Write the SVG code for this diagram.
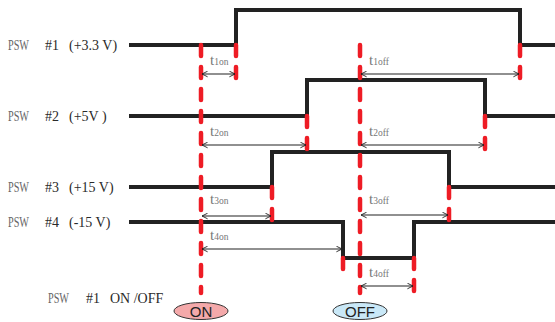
<svg xmlns="http://www.w3.org/2000/svg" width="555" height="322" viewBox="0 0 555 322">
<style>
.wave{fill:none;stroke:#222;stroke-width:4;stroke-linejoin:miter}
.red{fill:none;stroke:#ee1c25;stroke-width:4.5;stroke-linecap:round;stroke-dasharray:11 11}
.arr{fill:none;stroke:#222;stroke-width:1.1;marker-start:url(#ah);marker-end:url(#ah)}
.lbl{font-family:"Liberation Serif","Noto Serif CJK TC",serif;font-size:14px;fill:#2a2a2a}
.psw{fill:#666;font-size:14px}
.t{font-family:"Liberation Serif",serif;font-size:15px;fill:#777}
.sub{font-size:9.5px}
.btn{font-family:"Liberation Sans",Arial,sans-serif;font-size:15px;fill:#222;text-anchor:middle}
</style>
<defs>
<marker id="ah" viewBox="0 0 10 10" refX="9" refY="5" markerWidth="7" markerHeight="7" orient="auto-start-reverse" markerUnits="userSpaceOnUse">
<path d="M1,1 L9,5 L1,9" fill="none" stroke="#222" stroke-width="1.3"/>
</marker>
</defs>
<g id="labels">
<text class="lbl" y="50"><tspan class="psw" x="8" textLength="21" lengthAdjust="spacingAndGlyphs">PSW</tspan><tspan x="45">#1</tspan><tspan x="69">(+3.3 V)</tspan></text>
<text class="lbl" y="121"><tspan class="psw" x="8" textLength="21" lengthAdjust="spacingAndGlyphs">PSW</tspan><tspan x="45">#2</tspan><tspan x="69">(+5V )</tspan></text>
<text class="lbl" y="192"><tspan class="psw" x="8" textLength="21" lengthAdjust="spacingAndGlyphs">PSW</tspan><tspan x="45">#3</tspan><tspan x="69">(+15 V)</tspan></text>
<text class="lbl" y="227"><tspan class="psw" x="8" textLength="21" lengthAdjust="spacingAndGlyphs">PSW</tspan><tspan x="45">#4</tspan><tspan x="69">(-15 V)</tspan></text>
<text class="lbl" y="303"><tspan class="psw" x="48" textLength="21" lengthAdjust="spacingAndGlyphs">PSW</tspan><tspan x="86">#1</tspan><tspan x="110">ON /OFF</tspan></text>
</g>
<g id="waveforms">
<path id="w1" class="wave" d="M129,45 H236 V10 H520 V45 H555"/>
<path id="w2" class="wave" d="M129,116 H307 V80 H485 V116 H555"/>
<path id="w3" class="wave" d="M129,187 H272 V152 H449 V187 H555"/>
<path id="w4" class="wave" d="M129,222 H343 V258 H414 V222 H555"/>
</g>
<g id="markers">
<path class="red" d="M201,45 V293"/>
<path class="red" d="M360,45 V293"/>
<path class="red" d="M236,45 V82"/>
<path class="red" d="M520,45 V82"/>
<path class="red" d="M307,116 V153"/>
<path class="red" d="M485,116 V153"/>
<path class="red" d="M272,187 V223"/>
<path class="red" d="M449,187 V223"/>
<path class="red" d="M343,258 V271"/>
<path class="red" d="M414,258 V295"/>
</g>
<g id="connectors">
<line class="arr" x1="202" y1="74" x2="235" y2="74"/>
<line class="arr" x1="361" y1="74" x2="519" y2="74"/>
<line class="arr" x1="202" y1="145" x2="306" y2="145"/>
<line class="arr" x1="361" y1="145" x2="484" y2="145"/>
<line class="arr" x1="202" y1="216" x2="271" y2="216"/>
<line class="arr" x1="361" y1="215" x2="448" y2="215"/>
<line class="arr" x1="202" y1="249" x2="342" y2="249"/>
<line class="arr" x1="361" y1="286" x2="413" y2="286"/>
</g>
<g id="timelabels">
<text class="t" x="210" y="65">t<tspan class="sub">1on</tspan></text>
<text class="t" x="369" y="65">t<tspan class="sub">1off</tspan></text>
<text class="t" x="210" y="136">t<tspan class="sub">2on</tspan></text>
<text class="t" x="369" y="136">t<tspan class="sub">2off</tspan></text>
<text class="t" x="210" y="204">t<tspan class="sub">3on</tspan></text>
<text class="t" x="369" y="204">t<tspan class="sub">3off</tspan></text>
<text class="t" x="210" y="240">t<tspan class="sub">4on</tspan></text>
<text class="t" x="369" y="277">t<tspan class="sub">4off</tspan></text>
</g>
<g id="on">
<ellipse cx="201" cy="311" rx="27" ry="8.5" fill="#f4a9aa" stroke="#333" stroke-width="1"/>
<text class="btn" x="201" y="316.5">ON</text>
</g>
<g id="off">
<ellipse cx="360" cy="311" rx="27" ry="8.5" fill="#c9e8f7" stroke="#333" stroke-width="1"/>
<text class="btn" x="360" y="316.5">OFF</text>
</g>
</svg>
